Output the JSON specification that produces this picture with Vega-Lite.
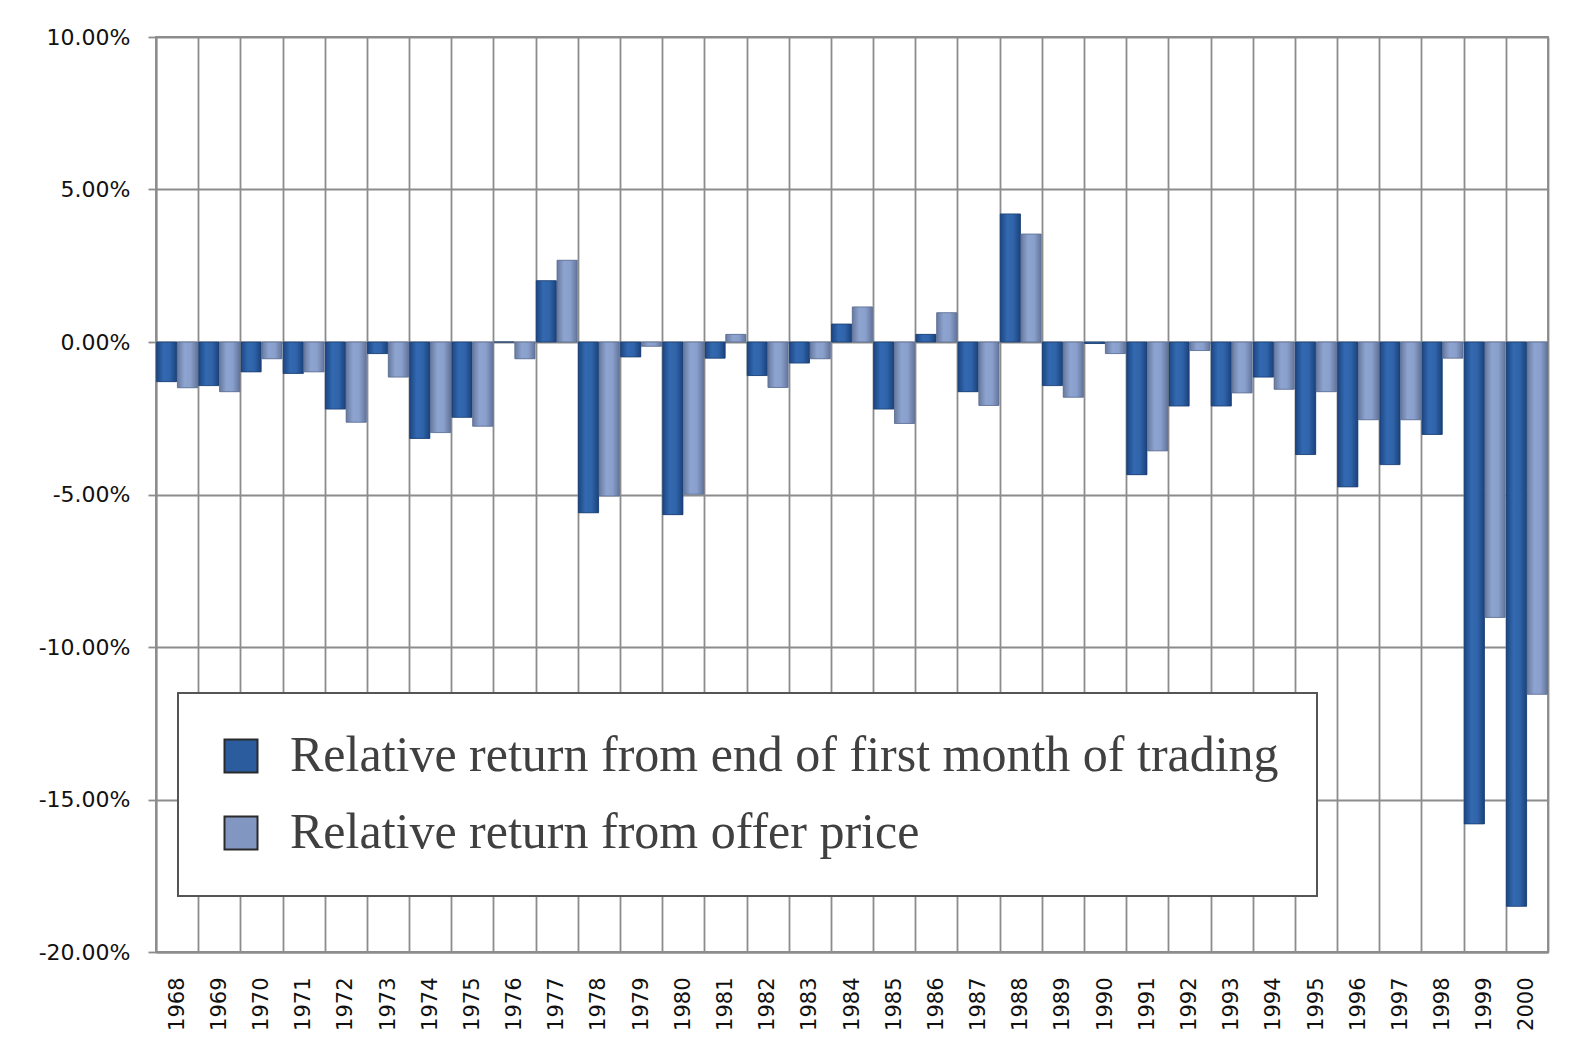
{
  "$schema": "https://vega.github.io/schema/vega-lite/v6.json",
  "width": 1392,
  "height": 915,
  "autosize": {"type": "none"},
  "padding": {"left": 156, "top": 37, "right": 21, "bottom": 101},
  "background": "white",
  "config": {
    "view": {"stroke": "#8c8c8c", "strokeWidth": 1.8},
    "font": "DejaVu Sans",
    "legend": {"strokeWidth": 2}
  },
  "data": {
    "values": [
      {"year": "1968", "series": "Relative return from end of first month of trading", "value": -1.3},
      {"year": "1968", "series": "Relative return from offer price", "value": -1.5},
      {"year": "1969", "series": "Relative return from end of first month of trading", "value": -1.43},
      {"year": "1969", "series": "Relative return from offer price", "value": -1.63},
      {"year": "1970", "series": "Relative return from end of first month of trading", "value": -0.98},
      {"year": "1970", "series": "Relative return from offer price", "value": -0.55},
      {"year": "1971", "series": "Relative return from end of first month of trading", "value": -1.03},
      {"year": "1971", "series": "Relative return from offer price", "value": -0.98},
      {"year": "1972", "series": "Relative return from end of first month of trading", "value": -2.2},
      {"year": "1972", "series": "Relative return from offer price", "value": -2.63},
      {"year": "1973", "series": "Relative return from end of first month of trading", "value": -0.38},
      {"year": "1973", "series": "Relative return from offer price", "value": -1.15},
      {"year": "1974", "series": "Relative return from end of first month of trading", "value": -3.16},
      {"year": "1974", "series": "Relative return from offer price", "value": -2.97},
      {"year": "1975", "series": "Relative return from end of first month of trading", "value": -2.47},
      {"year": "1975", "series": "Relative return from offer price", "value": -2.76},
      {"year": "1976", "series": "Relative return from end of first month of trading", "value": 0.0},
      {"year": "1976", "series": "Relative return from offer price", "value": -0.55},
      {"year": "1977", "series": "Relative return from end of first month of trading", "value": 2.01},
      {"year": "1977", "series": "Relative return from offer price", "value": 2.68},
      {"year": "1978", "series": "Relative return from end of first month of trading", "value": -5.6},
      {"year": "1978", "series": "Relative return from offer price", "value": -5.05},
      {"year": "1979", "series": "Relative return from end of first month of trading", "value": -0.49},
      {"year": "1979", "series": "Relative return from offer price", "value": -0.14},
      {"year": "1980", "series": "Relative return from end of first month of trading", "value": -5.66},
      {"year": "1980", "series": "Relative return from offer price", "value": -4.99},
      {"year": "1981", "series": "Relative return from end of first month of trading", "value": -0.53},
      {"year": "1981", "series": "Relative return from offer price", "value": 0.25},
      {"year": "1982", "series": "Relative return from end of first month of trading", "value": -1.1},
      {"year": "1982", "series": "Relative return from offer price", "value": -1.49},
      {"year": "1983", "series": "Relative return from end of first month of trading", "value": -0.69},
      {"year": "1983", "series": "Relative return from offer price", "value": -0.55},
      {"year": "1984", "series": "Relative return from end of first month of trading", "value": 0.59},
      {"year": "1984", "series": "Relative return from offer price", "value": 1.15},
      {"year": "1985", "series": "Relative return from end of first month of trading", "value": -2.2},
      {"year": "1985", "series": "Relative return from offer price", "value": -2.67},
      {"year": "1986", "series": "Relative return from end of first month of trading", "value": 0.25},
      {"year": "1986", "series": "Relative return from offer price", "value": 0.96},
      {"year": "1987", "series": "Relative return from end of first month of trading", "value": -1.63},
      {"year": "1987", "series": "Relative return from offer price", "value": -2.08},
      {"year": "1988", "series": "Relative return from end of first month of trading", "value": 4.2},
      {"year": "1988", "series": "Relative return from offer price", "value": 3.54},
      {"year": "1989", "series": "Relative return from end of first month of trading", "value": -1.43},
      {"year": "1989", "series": "Relative return from offer price", "value": -1.81},
      {"year": "1990", "series": "Relative return from end of first month of trading", "value": -0.05},
      {"year": "1990", "series": "Relative return from offer price", "value": -0.38},
      {"year": "1991", "series": "Relative return from end of first month of trading", "value": -4.35},
      {"year": "1991", "series": "Relative return from offer price", "value": -3.57},
      {"year": "1992", "series": "Relative return from end of first month of trading", "value": -2.1},
      {"year": "1992", "series": "Relative return from offer price", "value": -0.28},
      {"year": "1993", "series": "Relative return from end of first month of trading", "value": -2.1},
      {"year": "1993", "series": "Relative return from offer price", "value": -1.67},
      {"year": "1994", "series": "Relative return from end of first month of trading", "value": -1.15},
      {"year": "1994", "series": "Relative return from offer price", "value": -1.55},
      {"year": "1995", "series": "Relative return from end of first month of trading", "value": -3.69},
      {"year": "1995", "series": "Relative return from offer price", "value": -1.63},
      {"year": "1996", "series": "Relative return from end of first month of trading", "value": -4.75},
      {"year": "1996", "series": "Relative return from offer price", "value": -2.55},
      {"year": "1997", "series": "Relative return from end of first month of trading", "value": -4.02},
      {"year": "1997", "series": "Relative return from offer price", "value": -2.55},
      {"year": "1998", "series": "Relative return from end of first month of trading", "value": -3.03},
      {"year": "1998", "series": "Relative return from offer price", "value": -0.53},
      {"year": "1999", "series": "Relative return from end of first month of trading", "value": -15.8},
      {"year": "1999", "series": "Relative return from offer price", "value": -9.03},
      {"year": "2000", "series": "Relative return from end of first month of trading", "value": -18.5},
      {"year": "2000", "series": "Relative return from offer price", "value": -11.55}
    ]
  },
  "encoding": {
    "x": {
      "field": "year",
      "type": "ordinal",
      "scale": {"paddingInner": 0, "paddingOuter": 0},
      "axis": {
        "title": null,
        "tickBand": "extent",
        "grid": true,
        "gridColor": "#8c8c8c",
        "gridWidth": 1.8,
        "domain": true,
        "domainColor": "#8c8c8c",
        "domainWidth": 1.8,
        "ticks": false,
        "tickSize": 0,
        "labelAngle": 270,
        "labelPadding": 25,
        "labelFont": "DejaVu Sans",
        "labelFontSize": 21,
        "labelColor": "#111111"
      }
    },
    "xOffset": {
      "field": "series",
      "type": "nominal",
      "sort": ["Relative return from end of first month of trading", "Relative return from offer price"],
      "scale": {"paddingInner": 0.03, "paddingOuter": 0.03}
    },
    "y": {
      "field": "value",
      "type": "quantitative",
      "scale": {"domain": [-20, 10], "nice": false},
      "axis": {
        "title": null,
        "values": [-20, -15, -10, -5, 0, 5, 10],
        "labelExpr": "replace(format(datum.value, '.2f'), '\u2212', '-') + '%'",
        "grid": true,
        "gridColor": "#8c8c8c",
        "gridWidth": 1.8,
        "domain": true,
        "domainColor": "#8c8c8c",
        "domainWidth": 1.8,
        "ticks": true,
        "tickSize": 8,
        "tickColor": "#8c8c8c",
        "tickWidth": 1.8,
        "labelPadding": 18,
        "labelFont": "DejaVu Sans",
        "labelFontSize": 22,
        "labelColor": "#111111"
      }
    }
  },
  "layer": [
    {
      "mark": {"type": "bar"},
      "encoding": {
        "color": {
          "field": "series",
          "type": "nominal",
          "sort": ["Relative return from end of first month of trading", "Relative return from offer price"],
          "scale": {"range": ["#2b5c9e", "#8296c2"]},
          "legend": {
            "title": null,
            "orient": "none",
            "legendX": 22,
            "legendY": 656,
            "direction": "vertical",
            "padding": 38,
            "fillColor": "white",
            "strokeColor": "#555555",
            "symbolType": "square",
            "symbolSize": 1089,
            "symbolStrokeColor": "#2a2a2a",
            "symbolStrokeWidth": 2,
            "symbolOffset": 0,
            "labelOffset": 24,
            "labelFont": "Liberation Serif",
            "labelFontSize": 50,
            "labelColor": "#404040",
            "labelLimit": 2000,
            "rowPadding": 27
          }
        }
      }
    },
    {
      "transform": [{"filter": "datum.series === 'Relative return from end of first month of trading'"}],
      "mark": {
        "type": "bar",
        "stroke": "#1c3f72",
        "strokeWidth": 0.8,
        "color": {
          "gradient": "linear",
          "x1": 0, "y1": 0, "x2": 1, "y2": 0,
          "stops": [
            {"offset": 0, "color": "#1c4682"},
            {"offset": 0.35, "color": "#3369b1"},
            {"offset": 0.65, "color": "#3064aa"},
            {"offset": 1, "color": "#1a427b"}
          ]
        }
      }
    },
    {
      "transform": [{"filter": "datum.series === 'Relative return from offer price'"}],
      "mark": {
        "type": "bar",
        "stroke": "#5c6d92",
        "strokeWidth": 0.8,
        "color": {
          "gradient": "linear",
          "x1": 0, "y1": 0, "x2": 1, "y2": 0,
          "stops": [
            {"offset": 0, "color": "#67799f"},
            {"offset": 0.35, "color": "#8ea4d0"},
            {"offset": 0.65, "color": "#8aa0cc"},
            {"offset": 1, "color": "#63759b"}
          ]
        }
      }
    }
  ]
}
